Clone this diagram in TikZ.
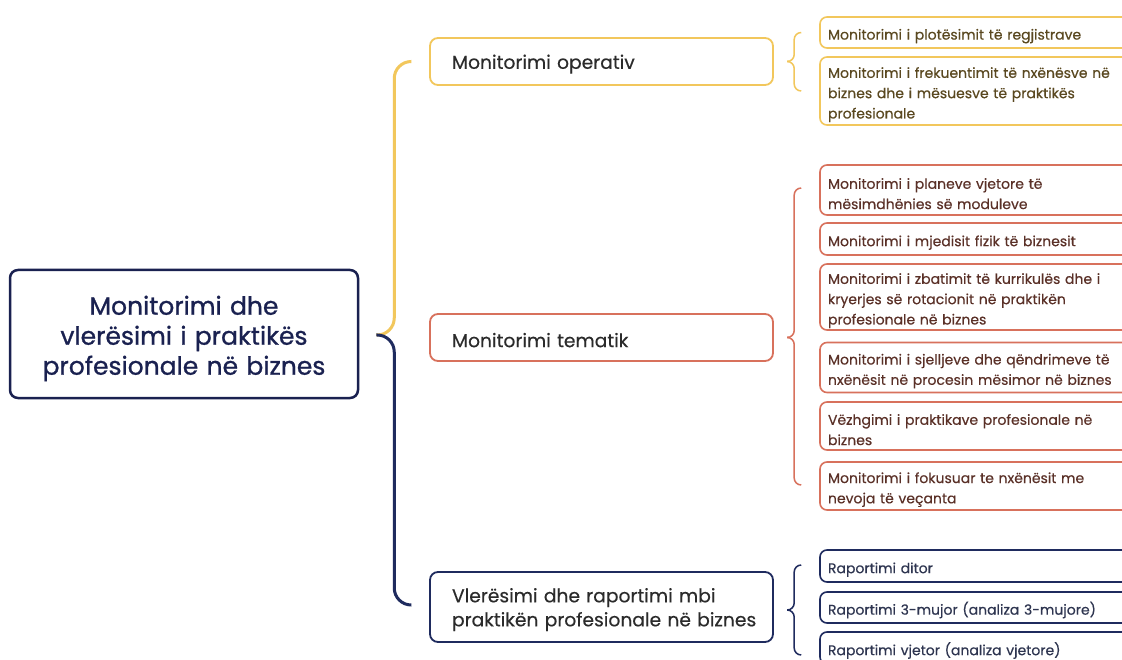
\documentclass[tikz,border=0pt]{standalone}
\usepackage{fontspec}
\setmainfont{Poppins}[FakeBold=0.35]
\newfontfamily\rootfont{Poppins}[FakeBold=0.9]
\usetikzlibrary{calc}
\definecolor{ylw}{HTML}{F2C75C}
\definecolor{sal}{HTML}{D8715C}
\definecolor{nav}{HTML}{1F2B5E}
\definecolor{navdark}{HTML}{1A2150}
\definecolor{ytxt}{HTML}{5A4820}
\definecolor{stxt}{HTML}{5A3027}
\definecolor{ntxt}{HTML}{2E3550}
\definecolor{ltxt}{HTML}{2B2B2B}
\tikzset{
  rootbox/.style={draw=navdark, line width=2.5pt, rounded corners=8pt, fill=white,
    text width=348pt, minimum height=128pt, align=center, text=navdark,
    font=\rootfont\fontsize{25}{30}\selectfont, inner sep=0pt,
    execute at begin node={\rule{0pt}{28pt}}},
  lvone/.style={draw=#1, line width=1.8pt, rounded corners=8pt, fill=white,
    text width=299pt, inner xsep=22pt, inner ysep=0pt, align=left, text=ltxt,
    font=\fontsize{18.7}{24}\selectfont,
    execute at begin node={\rule{0pt}{19.5pt}}},
  lvtwo/.style={draw=#1, line width=1.6pt, rounded corners=7pt, fill=white,
    text width=320pt, inner xsep=8pt, inner ysep=0pt, align=left,
    font=\fontsize{14}{20.3}\selectfont,
    execute at begin node={\rule{0pt}{18pt}}},
  bigbrace/.style={line width=3pt, rounded corners=17pt},
  smallbrace/.style={line width=1.5pt, rounded corners=7pt}
}
\begin{document}
\begin{tikzpicture}[x=1pt,y=-1pt]
\useasboundingbox (0,0) rectangle (1122,660);
\fill[white] (0,0) rectangle (1122,660);
\clip (0,0) rectangle (1122,660);

% root
\node[rootbox] (R) at (184,334) {Monitorimi dhe\\vlerësimi i praktikës\\profesionale në biznes};

% level one
\node[lvone=ylw, minimum height=47pt] (A) at (601.5,61.5) {Monitorimi operativ};
\node[lvone=sal, minimum height=47pt] (B) at (601.5,337.5) {Monitorimi tematik};
\node[lvone=nav, minimum height=70pt] (C) at (601.5,607) {\mbox{Vlerësimi dhe raportimi mbi}\\\mbox{praktikën profesionale në biznes}};

% level two: yellow
\node[lvtwo=ylw, text=ytxt, minimum height=31pt] (Y1) at (988,32.5) {Monitorimi i plotësimit të regjistrave};
\node[lvtwo=ylw, text=ytxt, minimum height=68pt] (Y2) at (988,91) {\mbox{Monitorimi i frekuentimit të nxënësve në}\\biznes dhe i mësuesve të praktikës\\profesionale};

% level two: salmon
\node[lvtwo=sal, text=stxt, minimum height=50pt] (S1) at (988,190) {Monitorimi i planeve vjetore të\\mësimdhënies së moduleve};
\node[lvtwo=sal, text=stxt, minimum height=32pt] (S2) at (988,239) {Monitorimi i mjedisit fizik të biznesit};
\node[lvtwo=sal, text=stxt, minimum height=66pt] (S3) at (988,297) {Monitorimi i zbatimit të kurrikulës dhe i\\kryerjes së rotacionit në praktikën\\profesionale në biznes};
\node[lvtwo=sal, text=stxt, minimum height=50pt] (S4) at (988,367.5) {Monitorimi i sjelljeve dhe qëndrimeve të\\\mbox{nxënësit në procesin mësimor në biznes}};
\node[lvtwo=sal, text=stxt, minimum height=48pt] (S5) at (988,426) {Vëzhgimi i praktikave profesionale në\\biznes};
\node[lvtwo=sal, text=stxt, minimum height=48pt] (S6) at (988,486) {Monitorimi i fokusuar te nxënësit me\\nevoja të veçanta};

% level two: navy
\node[lvtwo=nav, text=ntxt, minimum height=32pt] (N1) at (988,566) {Raportimi ditor};
\node[lvtwo=nav, text=ntxt, minimum height=31pt] (N2) at (988,607.5) {Raportimi 3-mujor (analiza 3-mujore)};
\node[lvtwo=nav, text=ntxt, minimum height=32pt] (N3) at (988,648) {Raportimi vjetor (analiza vjetore)};

% big brace from root
\coordinate (rt) at ($(R.east)+(17,1)$);
\draw[bigbrace, ylw] (rt) -- ++(18,0) |- ($(A.west)+(-18,0)$);
\draw[bigbrace, nav] (rt) -- ++(18,0) |- ($(C.west)+(-18,-2)$);

% small braces
\coordinate (ta) at ($(A.east)+(15,0)$);
\draw[smallbrace, ylw] ($(Y1.west)+(-18,0)$) -- ++(-7,0) |- (ta);
\draw[smallbrace, ylw] ($(Y2.west)+(-18,0)$) -- ++(-7,0) |- (ta);

\coordinate (tb) at ($(B.east)+(15,0)$);
\draw[smallbrace, sal] ($(S1.west)+(-18,-2)$) -- ++(-7,0) |- (tb);
\draw[smallbrace, sal] ($(S6.west)+(-18,-1)$) -- ++(-7,0) |- (tb);

\coordinate (tc) at ($(C.east)+(15,3)$);
\draw[smallbrace, nav] ($(N1.west)+(-18,-1)$) -- ++(-7,0) |- (tc);
\draw[smallbrace, nav] ($(N3.west)+(-18,7)$) -- ++(-7,0) |- (tc);
\end{tikzpicture}
\end{document}
